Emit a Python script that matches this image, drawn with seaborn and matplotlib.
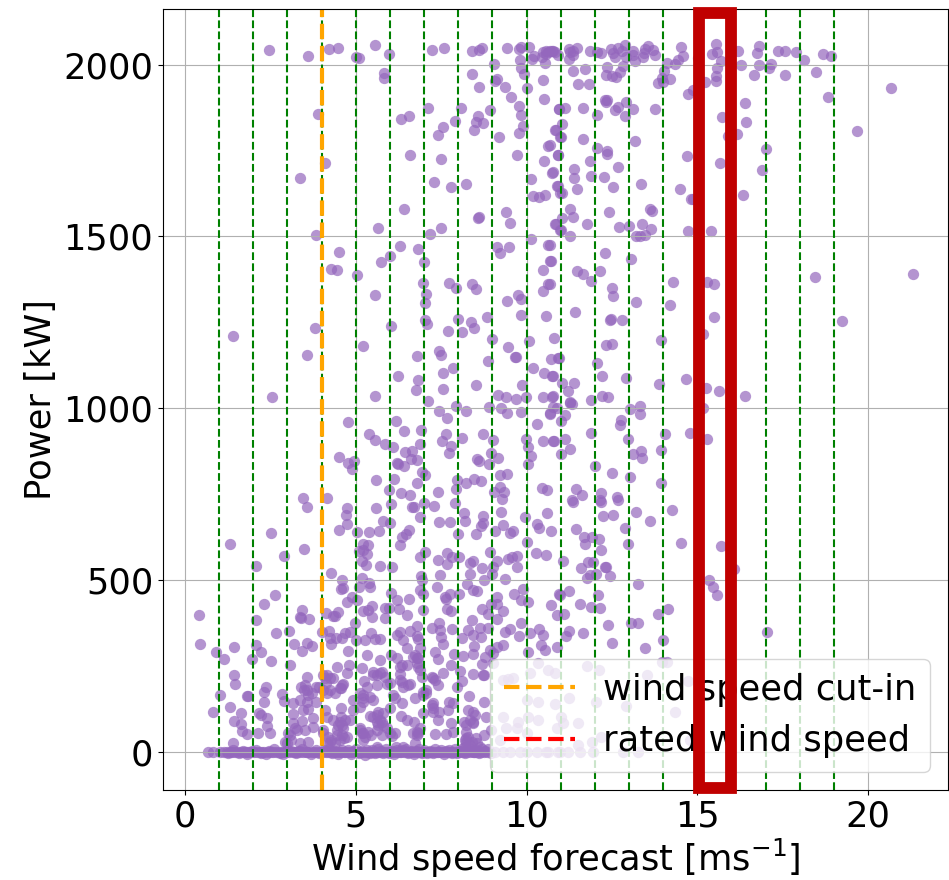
"""
Wind power against wind speed forecast, with the 15-16 m/s bin boxed.
"""

import matplotlib
matplotlib.use('Agg')
import matplotlib.pyplot as plt
from matplotlib.patches import Rectangle
import pandas as pd
import seaborn as sns

# points, upper part (above about 1000 kW), x < 11 m/s
upper_left_ws = [2.47, 3.61, 4.21, 4.47, 5.02, 5.09, 5.57, 5.98, 7.24, 7.57, 8.40, 8.60, 8.68, 9.43, 9.78, 9.85, 10.07,
                 9.82, 10.17, 10.21, 10.44, 10.54, 10.58, 10.63, 10.68, 10.78, 10.49, 10.56, 9.06, 9.85, 9.93, 8.41,
                 5.84, 5.82, 9.12, 9.07, 8.60, 9.38, 10.0, 10.47, 9.55, 10.52, 7.10, 8.08, 8.92, 9.79, 9.85, 10.94,
                 3.90, 6.32, 6.55, 8.57, 7.90, 7.56, 8.53, 8.73, 9.90, 10.85, 7.42, 8.45, 9.20, 9.77, 10.98, 10.62,
                 6.60, 7.49, 9.72, 10.52, 10.93, 4.09, 3.38, 10.74, 10.13, 7.30, 7.80, 8.24, 10.88, 10.19, 10.35,
                 10.55, 10.98, 6.42, 9.40, 8.58, 8.62, 9.52, 10.85, 10.98, 5.64, 7.48, 7.17, 3.85, 10.13, 6.29, 6.82,
                 9.14, 9.48, 9.23, 10.62, 4.50, 6.0, 5.75, 6.99, 10.67, 4.27, 4.45, 10.49, 5.05, 6.96, 7.72, 7.94,
                 8.41, 8.53, 10.63, 10.67, 10.49, 5.56, 7.07, 7.03, 9.76, 9.83, 9.44, 9.83, 10.58, 7.02, 7.09, 7.98,
                 8.38, 8.45, 8.84, 6.02, 7.69, 8.10, 3.80, 1.40, 9.0, 10.08, 10.80, 5.22, 9.45, 3.57, 7.44, 7.50,
                 6.79, 9.65, 9.69, 8.87, 10.72, 10.93, 7.85, 10.19, 7.54, 10.51, 10.75, 6.24, 6.81, 6.77, 7.56, 8.52,
                 9.87, 2.56, 5.57, 9.16, 9.41, 9.68, 9.97, 10.49, 7.10, 10.78]
upper_left_power = [2044, 2024, 2045, 2047, 2022, 2019, 2057, 2030, 2043, 2049, 2040, 2042, 2049, 2048, 2045, 2051, 2052,
                    2014, 2017, 2024, 2022, 2006, 2041, 2037, 2041, 2040, 2037, 2032, 2001, 1989, 1974, 1974,
                    1976, 1960, 1958, 1951, 1936, 1936, 1933, 1956, 1906, 1900, 1875, 1873, 1868, 1879, 1853, 1871,
                    1855, 1842, 1851, 1850, 1837, 1818, 1833, 1829, 1820, 1809, 1794, 1809, 1790, 1801, 1789, 1764,
                    1736, 1724, 1737, 1719, 1736, 1713, 1671, 1685, 1668, 1658, 1645, 1653, 1647, 1618, 1616,
                    1620, 1626, 1581, 1570, 1554, 1557, 1540, 1537, 1518, 1524, 1524, 1508, 1503, 1491, 1472, 1463,
                    1468, 1469, 1452, 1475, 1454, 1444, 1426, 1424, 1428, 1406, 1401, 1401, 1387, 1364, 1364, 1351,
                    1362, 1348, 1361, 1361, 1342, 1330, 1333, 1306, 1329, 1317, 1311, 1271, 1268, 1256, 1246, 1260,
                    1250, 1232, 1264, 1239, 1225, 1222, 1232, 1211, 1201, 1194, 1205, 1181, 1178, 1155, 1167, 1156,
                    1152, 1150, 1150, 1136, 1144, 1146, 1117, 1116, 1103, 1103, 1094, 1094, 1081, 1053, 1055, 1067,
                    1066, 1033, 1036, 1038, 1033, 1026, 1033, 1033, 1020, 1035]

# upper part, x > 10.7 m/s
upper_right_ws = [10.73, 10.83, 10.92, 11.25, 11.46, 11.36, 11.27, 11.25, 11.36, 11.85, 12.05, 12.19, 12.48, 12.68, 12.88,
                  12.53, 12.60, 12.78, 12.92, 13.12, 13.17, 13.46, 13.56, 13.70, 13.41, 13.75, 13.12, 13.44, 14.11,
                  14.35, 14.44, 14.58, 14.53, 15.02, 15.43, 15.53, 15.58, 15.68, 15.56, 15.53, 15.54, 16.19, 16.26,
                  16.73, 16.81, 16.81, 17.10, 17.14, 17.36, 17.56, 17.88, 18.11, 18.66, 18.90, 16.66, 17.56, 18.46,
                  20.66, 18.81, 19.67, 21.30, 18.44, 19.22, 11.37, 11.70, 12.36, 12.32, 12.50, 12.61, 12.72, 12.83,
                  11.49, 11.82, 14.03, 13.95, 13.83, 14.0, 14.19, 15.23, 14.73, 14.88, 16.39, 12.29, 12.36, 12.32,
                  12.90, 12.68, 12.58, 13.10, 13.77, 12.88, 12.05, 11.66, 10.95, 11.11, 11.04, 10.84, 11.0, 11.66,
                  13.17, 15.72, 16.41, 16.17, 15.90, 10.68, 12.07, 12.36, 12.34, 10.92, 14.70, 17.0, 11.86, 12.67,
                  11.39, 10.76, 15.67, 16.88, 11.87, 11.39, 12.27, 10.91, 12.53, 11.47, 11.04, 13.36, 14.50, 16.34,
                  14.82, 14.86, 11.26, 11.03, 11.36, 12.42, 13.61, 13.67, 10.84, 11.78, 13.38, 13.0, 12.69, 11.0,
                  11.27, 13.63, 13.20, 13.33, 13.46, 14.73, 15.40, 12.30, 13.05, 10.68, 10.70, 11.48, 11.66, 12.15,
                  11.88, 12.50, 12.54, 14.27, 15.27, 15.47, 13.19, 14.21, 11.42, 12.44, 12.47, 12.80, 15.47, 15.16,
                  13.92, 12.32, 12.50, 10.96, 12.05, 10.76, 12.20, 12.90, 14.66, 11.03, 11.38, 13.86, 11.21, 15.25,
                  15.63, 12.22, 12.39, 16.38, 11.89, 11.27, 10.73]
upper_right_power = [2040, 2037, 2027, 2046, 2048, 2041, 2037, 2017, 2027, 2040, 2036, 2034, 2046, 2049, 2058,
                     2034, 2022, 2041, 2022, 2041, 2012, 2046, 2053, 2044, 2022, 2029, 2029, 2034, 2005,
                     2001, 2014, 2026, 2051, 2020, 2032, 2059, 2037, 2012, 1991, 1966, 1951, 2041, 1998,
                     2035, 2053, 1998, 1991, 2003, 2041, 2039, 2037, 2014, 2032, 2024, 1969, 1969, 1980,
                     1933, 1907, 1808, 1391, 1382, 1253, 1982, 1986, 1994, 1970, 1968, 1964, 1980, 1996,
                     1943, 1945, 1981, 1962, 1947, 1949, 1959, 1949, 1915, 1927, 1889, 1896, 1897, 1890,
                     1890, 1877, 1867, 1872, 1871, 1850, 1854, 1875, 1870, 1874, 1826, 1809, 1789, 1784,
                     1777, 1848, 1833, 1798, 1791, 1765, 1756, 1750, 1739, 1736, 1734, 1753, 1718, 1702,
                     1697, 1686, 1714, 1694, 1677, 1669, 1673, 1648, 1645, 1639, 1626, 1652, 1639, 1621,
                     1608, 1608, 1581, 1554, 1557, 1572, 1581, 1575, 1537, 1537, 1537, 1530, 1527, 1518,
                     1502, 1521, 1501, 1502, 1504, 1516, 1515, 1451, 1433, 1474, 1428, 1399, 1389, 1399,
                     1369, 1351, 1325, 1366, 1366, 1360, 1308, 1299, 1279, 1256, 1259, 1257, 1266, 1215,
                     1199, 1185, 1187, 1146, 1132, 1093, 1093, 1087, 1085, 1073, 1074, 1069, 1049, 1058,
                     1050, 1036, 1033, 1036, 1023, 1019, 1033]

# 500-1000 kW
mid_ws = [4.78, 6.17, 6.42, 5.39, 5.56, 5.87, 6.08, 6.92, 7.64, 7.52, 7.80, 7.72, 8.12, 8.71, 9.03, 7.45, 7.66, 7.94,
          8.24, 8.89, 9.26, 9.42, 9.85, 10.31, 9.98, 10.47, 10.78, 10.05, 10.68, 10.88, 6.88, 6.44, 6.66, 6.62, 6.80,
          4.51, 4.76, 4.95, 4.88, 6.20, 6.25, 6.41, 6.95, 7.02, 5.60, 6.11, 6.80, 8.56, 8.62, 8.91, 9.15, 8.95, 9.21,
          9.44, 8.47, 8.23, 8.66, 7.97, 10.03, 10.12, 3.45, 3.57, 4.17, 5.97, 6.33, 6.59, 7.40, 7.92, 9.22, 9.33, 9.04,
          9.27, 10.44, 10.60, 4.74, 4.71, 5.58, 6.03, 6.65, 6.71, 7.0, 7.29, 7.90, 8.17, 9.24, 9.95, 10.60, 6.89, 8.71,
          4.75, 5.79, 6.0, 7.43, 7.76, 8.21, 8.66, 8.73, 9.30, 10.29, 10.37, 10.71, 4.50, 5.04, 5.39, 5.69, 6.55, 6.47,
          6.34, 7.99, 8.51, 9.07, 9.50, 9.59, 6.29, 1.33, 2.51, 3.50, 2.91, 10.02, 10.28, 10.56, 5.22, 5.37, 5.09, 5.22,
          5.32, 5.19, 5.30, 5.72, 6.06, 2.09, 4.29, 6.88, 7.04, 7.41, 7.68, 7.68, 7.83, 8.03, 8.34, 8.42, 8.92, 9.12,
          9.45, 9.73, 9.56, 9.72, 8.68, 9.02, 8.34, 6.90, 7.46, 9.0, 8.75, 9.38,
          11.35, 12.17, 12.66, 12.24, 12.53, 13.21, 13.61, 14.26, 12.89, 12.97, 14.53, 15.70, 16.07, 15.33, 13.27,
          11.44, 11.67, 11.90, 12.12, 11.70, 12.17, 11.80, 11.93, 11.59, 12.29, 12.32, 12.02, 11.85, 11.77, 12.44,
          11.05, 10.78, 11.27, 11.32, 11.12, 11.02, 10.68, 13.31, 13.32, 13.02, 12.75, 12.73, 15.15, 11.87, 14.06,
          14.78, 12.98, 15.28, 10.79, 11.13, 11.28, 11.0, 13.34, 13.10, 13.38, 13.92, 12.0, 12.50, 13.03, 13.94,
          11.44, 11.63, 12.17, 12.16, 12.65, 11.34]
mid_power = [960, 963, 932, 926, 908, 896, 887, 936, 924, 905, 889, 870, 912, 924, 907, 992, 971, 1005,
             991, 1004, 999, 986, 989, 953, 909, 903, 903, 887, 986, 999, 894, 873, 876, 851, 850,
             859, 841, 847, 822, 839, 836, 830, 815, 805, 792, 794, 782, 851, 846, 837, 856, 868, 804,
             809, 793, 781, 788, 790, 837, 861, 738, 711, 738, 761, 753, 748, 756, 763, 771, 756, 755,
             735, 766, 761, 710, 690, 710, 720, 713, 713, 724, 716, 724, 694, 697, 684, 695, 684, 685,
             663, 671, 664, 667, 668, 672, 658, 664, 661, 662, 650, 643, 644, 639, 639, 643, 644, 632,
             624, 634, 634, 643, 635, 641, 602, 604, 637, 591, 569, 611, 577, 571, 604, 601, 585, 587,
             575, 555, 543, 540, 536, 540, 520, 565, 582, 557, 577, 545, 567, 565, 550, 554, 582, 554,
             561, 570, 567, 538, 533, 538, 518, 512, 513, 518, 500, 502,
             727, 727, 732, 686, 688, 698, 671, 703, 650, 604, 608, 598, 531, 499, 488,
             647, 625, 625, 620, 604, 587, 553, 551, 534, 536, 538, 517, 514, 504, 512,
             554, 1003, 1015, 1011, 981, 962, 984, 1005, 984, 996, 965, 950, 1001, 928, 926,
             928, 911, 909, 903, 911, 881, 865, 875, 867, 854, 879, 831, 810, 800, 783,
             764, 747, 752, 732, 741, 732]

# 250-500 kW
low_ws = [4.61, 4.58, 4.63, 5.17, 5.09, 5.39, 5.42, 6.93, 7.37, 8.25, 8.44, 8.54, 2.65, 2.32, 0.40, 0.44, 4.90, 4.73,
          5.03, 4.49, 4.34, 4.39, 4.12, 5.22, 5.37, 5.48, 5.47, 5.86, 5.96, 5.85, 6.04, 6.21, 6.27, 6.49, 6.55, 6.88,
          6.98, 6.98, 7.61, 7.64, 7.76, 7.66, 7.80, 8.02, 8.68, 8.96, 9.12, 9.14, 9.32, 8.88, 9.14, 9.64, 9.90, 9.85,
          10.03, 10.70, 10.96, 10.88, 3.43, 3.37, 3.40, 3.64, 2.09, 2.67, 3.04, 4.0, 4.21, 4.24, 4.42, 4.27, 4.68, 4.83,
          4.99, 4.61, 5.02, 5.28, 5.46, 5.56, 5.72, 4.78, 3.19, 3.56, 3.73, 3.43, 1.43, 0.90, 2.07, 2.24, 1.97, 1.15,
          2.53, 3.09, 6.78, 7.22, 7.44, 7.46, 7.83, 8.39, 8.29, 8.63, 8.88, 9.51, 9.37, 9.85, 10.10, 10.37, 9.79, 9.32,
          9.12, 10.49, 10.41, 10.54, 10.88, 6.22, 6.29, 6.39, 6.49, 6.78, 6.81, 6.58, 7.50, 7.56, 8.10, 8.44, 8.66,
          8.47, 8.93, 10.04, 5.32, 5.71, 6.02, 6.20, 6.73, 6.88, 6.83, 7.32, 7.87, 8.15, 8.44, 7.41, 8.78, 9.02,
          15.44, 15.57, 12.09, 11.56, 11.88, 12.14, 13.83, 14.14, 12.37, 13.04, 13.25, 12.51, 11.65, 13.46, 13.98,
          17.02, 11.24, 11.15, 10.97, 11.24, 11.10]
low_power = [498, 474, 475, 506, 480, 490, 480, 499, 480, 488, 470, 468, 457, 430, 398, 312, 449, 435,
             441, 407, 394, 394, 402, 410, 412, 425, 391, 419, 418, 390, 463, 441, 414, 398, 443, 470,
             460, 412, 451, 443, 460, 414, 408, 458, 414, 431, 451, 431, 410, 400, 387, 459, 473, 441,
             434, 427, 460, 397, 412, 393, 390, 385, 383, 344, 351, 347, 352, 332, 330, 312, 346, 349,
             375, 332, 325, 325, 344, 329, 329, 293, 313, 315, 307, 293, 305, 291, 309, 290, 270, 270,
             265, 251, 366, 359, 373, 354, 356, 383, 354, 360, 359, 358, 347, 375, 346, 358, 336, 310,
             305, 339, 310, 297, 305, 339, 348, 325, 300, 336, 329, 352, 334, 312, 332, 339, 334,
             307, 295, 291, 282, 266, 281, 271, 281, 300, 271, 291, 284, 279, 283, 268, 276, 286,
             478, 456, 457, 429, 422, 419, 401, 415, 369, 373, 373, 315, 344, 300, 325,
             348, 352, 336, 456, 468, 400]

# 10-250 kW
base_ws = [4.44, 4.79, 5.17, 4.73, 4.15, 4.34, 3.56, 3.85, 3.41, 3.48, 3.61, 3.92, 4.12, 4.24, 4.61, 4.58, 4.39, 1.44,
           1.46, 2.37, 2.33, 1.04, 1.82, 1.86, 2.85, 5.51, 5.71, 5.85, 5.24, 5.34, 5.61, 6.0, 6.34, 6.49, 6.29, 6.34,
           6.54, 6.78, 6.93, 6.59, 7.27, 7.56, 7.78, 7.41, 8.10, 8.05, 8.44, 8.71, 8.76, 8.68, 9.02, 7.95, 7.07, 6.97,
           6.10, 6.15, 5.22, 5.41, 6.73, 8.32, 0.83, 1.32, 1.64, 1.43, 1.65, 1.66, 1.83, 2.17, 2.23, 2.39, 2.33, 2.39,
           2.15, 2.49, 2.90, 3.15, 3.37, 3.56, 3.85, 3.17, 3.46, 3.61, 3.76, 3.44, 3.15, 3.76, 3.27, 3.02, 4.10, 4.15,
           4.34, 4.05, 4.58, 4.58, 4.49, 4.63, 4.44, 4.83, 4.73, 4.91, 5.12, 5.22, 4.93, 5.41, 5.61, 5.76, 5.80, 5.51,
           5.12, 5.22, 5.37, 5.61, 5.90, 6.15, 5.76, 6.31, 6.34, 6.0, 6.49, 6.70, 6.78, 6.83, 6.98, 7.27, 7.27, 7.44,
           7.72, 7.85, 7.71, 7.41, 7.80, 7.32, 7.63, 7.85, 8.17, 8.29, 8.44, 8.75, 8.24, 8.44, 8.22, 8.76, 8.81, 8.95,
           6.74, 1.41, 2.93, 3.37, 3.61, 4.24, 4.39, 5.61, 6.17, 6.39, 8.24, 8.34, 8.54, 8.20, 8.63, 8.24,
           10.34, 9.32, 9.46, 9.61, 10.10, 10.63, 10.83, 10.34, 10.83, 10.0, 9.32, 9.76, 9.71, 9.41, 10.05, 9.22, 10.0,
           10.34, 10.88, 11.78, 12.12, 13.95, 14.10, 13.51, 14.73, 11.24, 12.04, 12.92, 14.34, 11.02, 11.51, 11.07,
           11.90, 11.51, 12.19, 14.78]
base_power = [247, 252, 244, 228, 223, 213, 216, 189, 189, 179, 165, 189, 199, 179, 194, 184, 171, 224,
              197, 187, 174, 166, 162, 162, 167, 223, 228, 218, 206, 187, 194, 199, 252, 252, 226, 203,
              194, 257, 218, 198, 213, 228, 252, 194, 206, 235, 226, 222, 222, 255, 257, 187, 171, 165,
              165, 155, 165, 160, 157, 163, 115, 129, 111, 90, 80, 60, 51, 111, 106, 97, 144, 74,
              53, 53, 148, 142, 150, 145, 145, 109, 121, 123, 97, 89, 84, 72, 63, 53, 121, 101,
              92, 63, 126, 101, 77, 68, 63, 92, 43, 150, 131, 145, 121, 103, 87, 87, 111, 150,
              63, 53, 58, 63, 68, 53, 48, 103, 140, 126, 92, 87, 58, 53, 111, 140, 126, 116,
              145, 140, 121, 92, 84, 51, 51, 58, 87, 121, 116, 145, 77, 82, 58, 48, 101, 63,
              24, 26, 29, 26, 29, 29, 24, 12, 14, 14, 29, 19, 24, 14, 14, 38,
              257, 208, 210, 213, 228, 237, 230, 145, 138, 150, 101, 87, 68, 68, 101, 34, 53,
              92, 68, 249, 237, 260, 260, 223, 205, 155, 143, 133, 116, 102, 84, 82,
              29, 19, 43, 34]

# the tight clusters between 4 and 8 m/s
cluster_ws = [4.54, 4.61, 4.68, 4.44, 4.59, 4.65, 4.54, 4.29, 4.15, 4.20, 4.05, 5.12, 5.17, 5.27, 5.22, 5.46, 5.66, 5.71,
              5.80, 5.61, 5.66, 5.51, 6.0, 6.05, 6.78, 6.68, 6.88, 7.22, 7.25, 8.29, 8.39, 8.44, 8.34, 8.49, 8.52, 8.20,
              3.12, 3.07, 2.98, 3.22, 3.51, 5.51, 5.61, 5.76, 5.90, 6.29, 6.29, 6.39, 6.68, 6.78, 6.83, 6.88, 6.98, 7.07,
              7.22, 7.32, 3.51, 3.56, 3.71, 4.05, 4.10, 4.24, 4.05, 4.15, 4.54, 4.63, 5.22, 5.12]
cluster_power = [87, 77, 92, 48, 48, 38, 34, 34, 24, 43, 53, 68, 53, 43, 34, 48, 77, 92,
                 77, 106, 116, 101, 53, 45, 48, 53, 68, 135, 116, 43, 29, 87, 92, 106, 38, 34,
                 34, 48, 24, 68, 63, 232, 223, 232, 198, 247, 208, 189, 276, 271, 247, 237, 174, 179,
                 218, 208, 194, 179, 169, 223, 213, 213, 179, 169, 184, 198, 155, 169]

# turbine standing still: these all sit on the 0 kW line
calm_ws = [0.68, 0.83, 1.02, 1.14, 1.22, 1.31, 1.37, 1.48, 1.55, 1.63, 1.72, 1.79, 1.86, 1.94, 2.03, 2.11, 2.19, 2.27,
           2.33, 2.42, 2.51, 2.58, 2.66, 2.74, 2.83, 2.91, 2.97, 3.06, 3.15, 3.22, 3.29, 3.38, 3.47, 3.55, 3.61, 3.72,
           3.79, 3.87, 3.96, 4.03, 4.12, 4.18, 4.27, 4.35, 4.43, 4.51, 4.56, 4.65, 4.74, 4.82, 4.89, 4.98, 5.06, 5.13,
           5.22, 5.29, 5.37, 5.46, 5.53, 5.61, 5.69, 5.78, 5.85, 5.93, 6.01, 6.09, 6.18, 6.25, 6.33, 6.42, 6.49, 6.57,
           6.66, 6.73, 6.81, 6.89, 6.97, 7.05, 7.14, 7.21, 7.29, 7.38, 7.46, 7.53, 7.62, 7.69, 7.77, 7.86, 7.93, 8.01,
           8.10, 8.18, 8.25, 8.33, 8.42, 8.49, 8.57, 8.66, 8.74, 8.83, 9.07, 9.32, 9.51, 9.80, 10.0, 10.29, 10.58,
           10.93, 10.63, 10.97, 11.22, 11.56, 11.95, 12.83, 13.26]

# second pass over the same line, these wander a few kW either side of zero
near_calm_ws = [1.25, 1.42, 1.58, 1.69, 1.83, 1.97, 2.08, 2.22, 2.36, 2.47, 2.61, 2.78, 2.88, 3.01, 3.11, 3.25, 3.34, 3.43,
                3.58, 3.68, 3.83, 3.92, 4.07, 4.21, 4.31, 4.39, 4.47, 4.61, 4.70, 4.78, 4.86, 4.94, 5.02, 5.09, 5.18, 5.26,
                5.33, 5.42, 5.49, 5.57, 5.65, 5.73, 5.81, 5.89, 5.97, 6.05, 6.13, 6.22, 6.29, 6.37, 6.46, 6.53, 6.62, 6.70,
                6.77, 6.85, 6.93, 7.01, 7.09, 7.17, 7.25, 7.33, 7.42, 7.49, 7.58, 7.65, 7.73, 7.81, 7.89, 7.97, 8.05, 8.14,
                8.21, 8.29, 8.37, 8.46, 8.53, 8.61, 8.70, 8.78, 8.88, 8.95]
near_calm_power = [-3, 4, -5, 2, -6, 3, 5, -4, -8, 2, 6, -3, -7, 4, 2, -5, 3, 6,
                   -2, -6, 4, -3, 5, 8, -4, 3, -6, 5, -2, 4, -7, 3, 6, -4, 2, -9, 5,
                   -3, 4, -5, 7, 2, -4, 6, -3, 3, -6, 5, -2, 4, 7, -5, 3, -8, 2, 6, -4,
                   5, -3, 3, -5, 8, -2, 4, -6, 3, 5, -4, 7, -3, 2, 9, -5, 4, 8, -2, 5, -4, 6, 3, 7, -3]

bin_edges = [1, 2, 3, 4, 5, 6, 7, 8, 9, 10, 11, 12, 13, 14, 15, 16, 17, 18, 19]  # drawn in green
cut_in_speed = 4
rated_speed = 15
x_ticks = [0, 5, 10, 15, 20]
y_ticks = [0, 500, 1000, 1500, 2000]


def main():
    plt.rcParams['font.size'] = 25.4
    for ws, power in [(upper_left_ws, upper_left_power), (upper_right_ws, upper_right_power), (mid_ws, mid_power),
                      (low_ws, low_power), (base_ws, base_power), (cluster_ws, cluster_power),
                      (near_calm_ws, near_calm_power)]:
        assert len(ws) == len(power)
    all_ws = upper_left_ws + upper_right_ws + mid_ws + low_ws + base_ws + cluster_ws + near_calm_ws + calm_ws
    all_power = (upper_left_power + upper_right_power + mid_power + low_power + base_power + cluster_power
                 + near_calm_power + [0] * len(calm_ws))
    df = pd.DataFrame({'ws': all_ws, 'power': all_power})

    fig, ax = plt.subplots(figsize=(9.49, 8.8), dpi=100)
    fig.subplots_adjust(left=163 / 949, right=948 / 949, top=1 - 9 / 880, bottom=1 - 790 / 880)

    sns.scatterplot(data=df, x='ws', y='power', ax=ax, color='tab:purple', s=66, alpha=0.7, linewidth=0)
    for v in bin_edges:
        ax.axvline(v, color='green', linestyle='--', linewidth=1.5)
    ax.axvline(cut_in_speed, color='orange', linestyle='--', linewidth=3, label='wind speed cut-in')
    ax.axvline(rated_speed, color='red', linestyle='--', linewidth=3, label='rated wind speed')

    ax.set_xlim(-0.64, 22.33)
    ax.set_ylim(-112, 2162)
    ax.set_xticks(x_ticks)
    ax.set_yticks(y_ticks)
    ax.grid(True)
    ax.set_xlabel(r'Wind speed forecast [ms$^{-1}$]', labelpad=2)
    ax.set_ylabel('Power [kW]')
    leg = ax.legend(loc='lower right')
    leg.set_zorder(5)

    # box round the 15-16 bin, goes a bit over the axes
    ax.add_patch(Rectangle((15.03, -105), 0.94, 2255, fill=False, edgecolor='#c00000', linewidth=8.5,
                           clip_on=False, zorder=6))

    fig.savefig('out.png', dpi=100)


if __name__ == '__main__':
    main()
